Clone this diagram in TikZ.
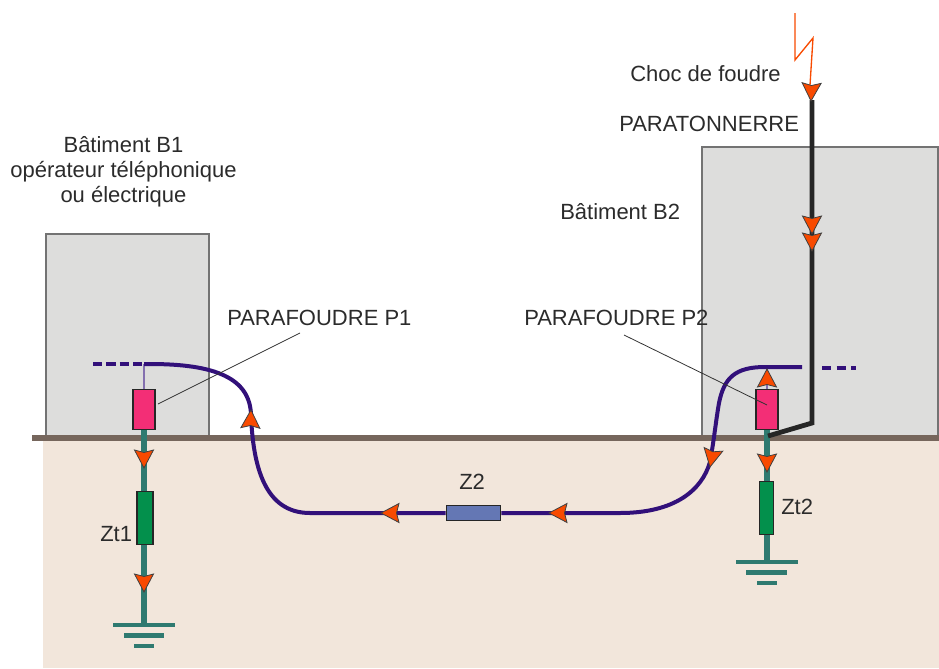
\documentclass[tikz,border=0pt]{standalone}
\usepackage{fontspec}
\setmainfont{Liberation Sans}
\definecolor{soil}{HTML}{F2E6DB}
\definecolor{bldg}{HTML}{DDDDDC}
\definecolor{earthline}{HTML}{76665C}
\definecolor{teal}{HTML}{2F7A70}
\definecolor{wire}{HTML}{32107A}
\definecolor{pinkbox}{HTML}{F32E76}
\definecolor{greenbox}{HTML}{03904C}
\definecolor{bluebox}{HTML}{6477B4}
\definecolor{orangered}{HTML}{F84A00}
\definecolor{txt}{HTML}{2B2B2B}
\tikzset{
  building/.style={draw=#1,fill=bldg,line width=1pt},
  compbox/.style={draw=black!85,line width=0.9pt,fill=#1,inner sep=0pt,minimum width=0pt},
  lbl/.style={text=txt,font=\fontsize{16.5pt}{18.75pt}\selectfont,inner sep=0pt,align=center},
  teal wire/.style={draw=teal,line width=4pt},
  bar/.style={draw=teal,line width=3.6pt},
  mainwire/.style={draw=wire,line width=3pt},
  blackwire/.style={draw=black!85,line width=3.6pt},
  leader/.style={draw=black!80,line width=0.6pt},
  head/.style={fill=orangered,draw=black!75,line width=0.6pt,line join=miter},
}
% tip at (#1,#2), pointing along the direction #3 (picture degrees, clockwise)
\newcommand{\ahead}[3]{\path[head,shift={(#1,#2)},rotate=-#3]
  (0,0) -- (-18,9.5) -- (-15.5,0) -- (-18,-9.5) -- cycle;}
\begin{document}
\begin{tikzpicture}[x=0.75pt,y=-0.75pt]
\useasboundingbox (0,0) rectangle (939,668);
% soil, buildings
\fill[soil] (43,438) rectangle (939,668);
\draw[building=black!55] (46,234) rectangle (209,438);
\draw[building=black!55] (702,147) rectangle (938,438);
\draw[draw=earthline,line width=3.8pt] (32,438) -- (939,438);
% named points
\coordinate (dashL) at (93,364);
\coordinate (topL) at (144,364);
\coordinate (gL) at (144,625);
\coordinate (gR) at (767,562);
\coordinate (endR) at (802,367);
\coordinate (dashA) at (822,368);
\coordinate (dashB) at (856,368);
\coordinate (rodtop) at (812,100);
\coordinate (rodknee) at (812,423);
\coordinate (rodfoot) at (768,436);
\coordinate (l1) at (795,13);
\coordinate (l2) at (795,60);
\coordinate (l3) at (813,38);
\coordinate (l4) at (810,85);
\coordinate (leadA) at (300,333);
\coordinate (leadB) at (624,335);
% teal wires are drawn first, the components go over their ends
\draw[teal wire] (144,430) -- (144,491);
\draw[teal wire] (144,545) -- (gL);
\draw[teal wire] (767,430) -- (767,481);
\draw[teal wire] (767,535) -- (gR);
% components
\node[compbox=pinkbox,minimum width=16.5pt,minimum height=30.5pt] (P1) at (144,409.5) {};
\node[compbox=pinkbox,minimum width=16.5pt,minimum height=30.5pt] (P2) at (767,409.5) {};
\node[compbox=greenbox,minimum width=12pt,minimum height=40pt] (Zt1) at (145,518) {};
\node[compbox=greenbox,minimum width=11pt,minimum height=40pt] (Zt2) at (766.5,508) {};
\node[compbox=bluebox,minimum width=41pt,minimum height=11.5pt] (Z2) at (473.5,513) {};
% ground symbols
\draw[bar] (113,625) -- (175,625);
\draw[bar] (124,635.5) -- (164,635.5);
\draw[bar] (134,646) -- (154,646);
\draw[bar] (736,562) -- (798,562);
\draw[bar] (746,572.5) -- (787,572.5);
\draw[bar] (757,583) -- (777,583);
% thin links from the main wire to the surge arresters
\draw[draw=wire!60,line width=0.9pt] (topL) -- (P1.north);
\draw[draw=wire!60,line width=0.9pt] (767,367) -- (P2.north);
% main wire
\draw[mainwire,dash pattern=on 7pt off 3pt] (dashL) -- (topL);
\draw[mainwire] (topL) -- (150,364) .. controls (215,364) and (250,378) .. (251,415)
  .. controls (253,465) and (264,513) .. (310,513) -- (Z2.west);
\draw[mainwire] (Z2.east) -- (620,513) .. controls (675,513) and (702,490) .. (710,462)
  .. controls (714,440) and (716,420) .. (719,403)
  .. controls (724,378) and (735,367) .. (765,367) -- (endR);
\draw[mainwire,dash pattern=on 7pt off 4pt] (dashA) -- (dashB);
% lightning rod
\draw[blackwire,line join=miter] (rodtop) -- (rodknee) -- (rodfoot);
% lightning
\draw[draw=orangered,line width=1pt] (l1) -- (l2) -- (l3) -- (l4);
% leaders
\draw[leader] (158,404) -- (leadA);
\draw[leader] (leadB) -- (767,405);
% arrowheads
\ahead{811}{101}{92}
\ahead{812}{234}{90}
\ahead{812}{251}{90}
\ahead{767}{369}{-90}
\ahead{767}{472}{90}
\ahead{144}{468}{90}
\ahead{144}{592}{90}
\ahead{251}{410}{-88}
\ahead{710}{467}{101}
\ahead{381}{513}{180}
\ahead{549}{513}{180}
% labels
\node[lbl] (tb1) at (123.5,171.5) {Bâtiment B1\\opérateur téléphonique\\ou électrique};
\node[lbl,anchor=west] (tb2) at (560,212) {Bâtiment B2};
\node[lbl,anchor=west] (tc) at (630,74) {Choc de foudre};
\node[lbl,anchor=west] (tp) at (619,124) {PARATONNERRE};
\node[lbl,anchor=west] (tp1) at (227,318) {PARAFOUDRE P1};
\node[lbl,anchor=west] (tp2) at (524,318) {PARAFOUDRE P2};
\node[lbl,anchor=west] (tz1) at (100,534) {Zt1};
\node[lbl,anchor=west] (tz2) at (781,507) {Zt2};
\node[lbl,anchor=west] (tz) at (459,482) {Z2};
\end{tikzpicture}
\end{document}
